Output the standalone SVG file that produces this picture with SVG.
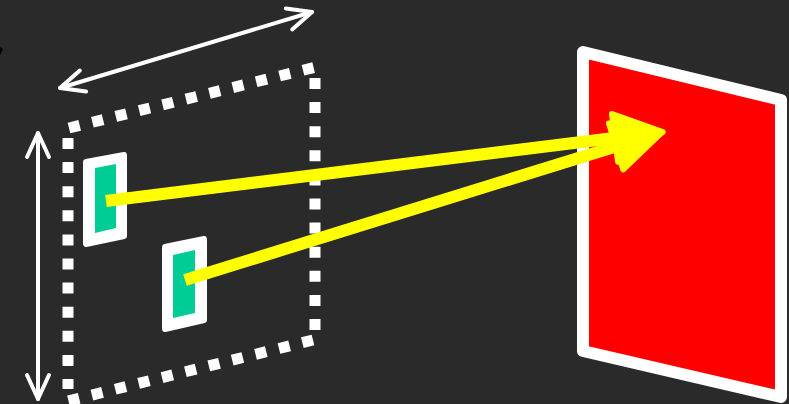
<svg xmlns="http://www.w3.org/2000/svg" width="789" height="404" viewBox="0 0 789 404">
<defs>
<style>
.dim{stroke:#ffffff;stroke-width:4;stroke-linecap:round;fill:none}
.dots{stroke:#ffffff;stroke-width:11;fill:none;stroke-dasharray:11 13.1}
.ray{stroke:#ffff00;stroke-width:12;fill:none}
.frame{fill:#ffffff;stroke:#ffffff;stroke-width:6;stroke-linejoin:round}
.chip{fill:#00cc96}
</style>
<marker id="chev" markerUnits="userSpaceOnUse" markerWidth="40" markerHeight="40" viewBox="-30 -20 40 40" refX="0" refY="0" orient="auto-start-reverse">
<path d="M-24,-11 L0,0 L-24,11" fill="none" stroke="#ffffff" stroke-width="4" stroke-linecap="round" stroke-linejoin="round"/>
</marker>
<marker id="head" markerUnits="userSpaceOnUse" markerWidth="70" markerHeight="70" viewBox="-10 -35 70 70" refX="0" refY="0" orient="auto">
<path d="M-3,-24 L45,0 L-3,24 Z" fill="#ffff00" stroke="#ffff00" stroke-width="6" stroke-linejoin="round"/>
</marker>
</defs>
<rect width="789" height="404" fill="#2a2a2a"/>
<path d="M0,47 L3,49 L0,55 Z" fill="#000000"/>
<g id="plane">
<line class="dots" x1="69" y1="128" x2="316" y2="67"/>
<line class="dots" x1="315" y1="78" x2="315" y2="330"/>
<line class="dots" x1="313" y1="340" x2="68" y2="401"/>
<line class="dots" x1="68" y1="138" x2="68" y2="389"/>
</g>
<g id="width-arrow">
<line class="dim" x1="60" y1="88" x2="312" y2="12" marker-start="url(#chev)" marker-end="url(#chev)"/>
</g>
<g id="height-arrow">
<line class="dim" x1="38" y1="133" x2="38" y2="399" marker-start="url(#chev)" marker-end="url(#chev)"/>
</g>
<g id="screen">
<polygon points="583,52 781,100 781,397 583,351" fill="#ff0000" stroke="#ffffff" stroke-width="12" stroke-linejoin="round"/>
</g>
<g id="source1">
<polygon class="frame" points="86,162 124,155 124,236 86,244"/>
<polygon class="chip" points="95,168 116,164 116,228 95,233"/>
</g>
<g id="source2">
<polygon class="frame" points="165,247 204,239 204,320 165,329"/>
<polygon class="chip" points="173,255 195,250 195,313 173,318"/>
</g>
<g id="connectors">
<line class="ray" x1="106" y1="201" x2="618" y2="137.5" marker-end="url(#head)"/>
<line class="ray" x1="185" y1="280" x2="619" y2="145.5" marker-end="url(#head)"/>
</g>
</svg>
